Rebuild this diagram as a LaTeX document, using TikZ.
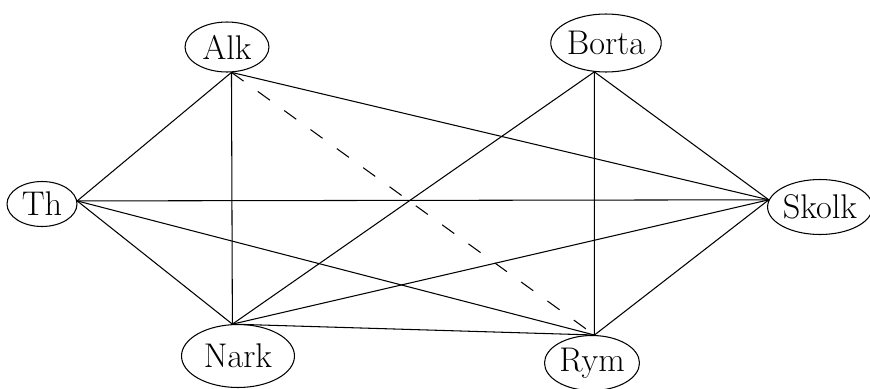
\documentclass[tikz,border=0pt]{standalone}
\usetikzlibrary{shapes.geometric}

\begin{document}
\begin{tikzpicture}[x=0.02cm,y=-0.02cm,
  place/.style={ellipse,draw,line width=0.6pt,inner sep=0pt,font=\fontsize{19.5}{22}\selectfont},
  link/.style={line width=0.6pt},
  hidden/.style={link,dash pattern=on 8.5pt off 10pt}]
\useasboundingbox (0,0) rectangle (870,389);

% places
\node[place,minimum width=1.68cm,minimum height=1.0cm] (alk) at (227,47) {Alk};
\node[place,minimum width=2.06cm,minimum height=1.16cm] (borta) at (606,43) {Borta};
\node[place,minimum width=1.4cm,minimum height=0.9cm] (th) at (42,204) {Th};
\node[place,minimum width=2.0cm,minimum height=1.1cm] (skolk) at (820,207) {Skolk};
\node[place,minimum width=2.26cm,minimum height=1.26cm] (nark) at (238,356) {Nark};
\node[place,minimum width=1.9cm,minimum height=1.1cm] (rym) at (592,363) {Rym};

% meeting points
\coordinate (a) at (alk.-80);
\coordinate (b) at (borta.-112);
\coordinate (t) at (th.5);
\coordinate (s) at (skolk.172);
\coordinate (n) at (nark.100);
\coordinate (r) at (rym.85);

\draw[link] (a) -- (t);
\draw[link] (a) -- (n);
\draw[link] (a) -- (s);
\draw[hidden] (a) -- (r);
\draw[link] (b) -- (n);
\draw[link] (b) -- (r);
\draw[link] (b) -- (s);
\draw[link] (t) -- (s);
\draw[link] (t) -- (n);
\draw[link] (t) -- (r);
\draw[link] (s) -- (n);
\draw[link] (s) -- (r);
\draw[link] (n) -- (r);
\end{tikzpicture}
\end{document}
